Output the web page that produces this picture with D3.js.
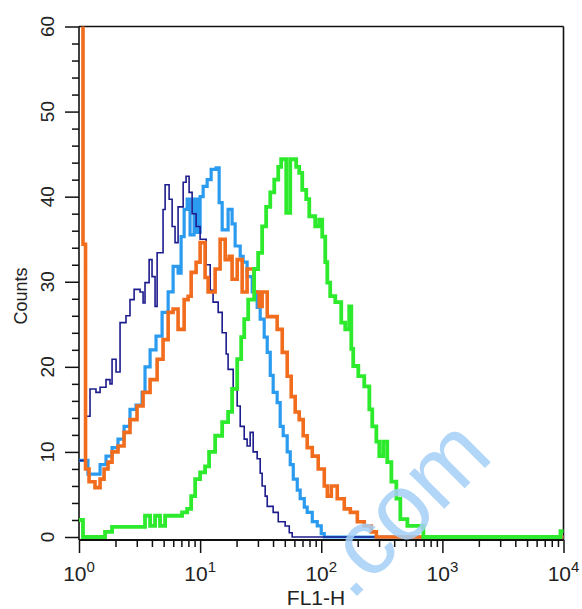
<!DOCTYPE html>
<html><head><meta charset="utf-8">
<script src="https://cdn.jsdelivr.net/npm/d3@7"></script>
<style>
body{margin:0;background:#fff}
svg{display:block}
text{font-family:"Liberation Sans",Arial,Helvetica,sans-serif}
</style>
</head><body>
<svg id="c" width="582" height="609"></svg>
<script>
// ---- data: [log10(FL1-H) at channel start, counts] ----
const navySeries = [[0,9],[0.058,14.2],[0.091,17.4],[0.140,17.0],[0.174,17.6],[0.223,18.5],[0.256,18.0],[0.273,20.9],[0.306,19.4],[0.339,25.2],
[0.388,26],[0.421,27.9],[0.455,29.1],[0.504,28.8],[0.529,27.5],[0.545,29.9],[0.579,32.6],[0.603,30.6],[0.628,27.1],[0.645,33.4],
[0.694,38.5],[0.711,41.4],[0.744,39.7],[0.769,36.5],[0.793,34.6],[0.818,38.8],[0.860,41.7],[0.884,42.4],[0.909,40.5],[0.934,38.0],
[0.967,36.5],[1.000,35],[1.050,32],[1.083,29],[1.107,27.6],[1.149,26.4],[1.182,24],[1.215,21.5],[1.231,19.7],[1.273,17.5],
[1.306,15.4],[1.331,13],[1.364,11.5],[1.388,10.7],[1.413,12.3],[1.438,10],[1.471,9.2],[1.496,7.5],[1.512,6],[1.537,4.8],
[1.554,3.6],[1.603,2.9],[1.645,1.8],[1.702,1.3],[1.736,0.5],[1.760,0],[4,0]];

const lightBlueSeries = [[0,9],[0.074,7.4],[0.174,8.5],[0.223,9.5],[0.273,10.5],[0.322,11.5],[0.372,13],[0.421,15],[0.471,15.5],[0.521,17],
[0.545,20],[0.587,22],[0.636,23.6],[0.686,26.4],[0.736,28.8],[0.777,31.8],[0.818,31.0],[0.843,35.3],[0.868,38.5],[0.893,39.7],
[0.917,35.5],[0.950,39.7],[0.975,35.8],[1.000,40],[1.025,41.2],[1.058,42],[1.091,43.2],[1.132,43.4],[1.157,39.3],[1.182,36.1],
[1.231,38.5],[1.264,36.8],[1.289,34.2],[1.331,33],[1.355,32.3],[1.388,30.6],[1.430,28.8],[1.471,27],[1.496,25.6],[1.529,23.5],
[1.554,21.7],[1.579,19],[1.603,17],[1.636,15.8],[1.661,13],[1.686,11.9],[1.719,10],[1.744,8.5],[1.769,6.8],[1.802,5.5],
[1.826,4.5],[1.860,3.5],[1.884,2.9],[1.926,1.8],[1.967,1.3],[2.000,0.4],[2.025,0],[4,0]];

const orangeSeries = [[0,75],[0.033,34.4],[0.054,8],[0.083,6.5],[0.132,5.8],[0.174,6.8],[0.207,8],[0.240,8.8],[0.273,10],[0.322,10.7],
[0.372,12.3],[0.421,13.8],[0.479,15.4],[0.529,17],[0.587,18.5],[0.645,20.9],[0.694,23.2],[0.736,26.4],[0.777,26.8],[0.818,24.4],
[0.868,27.9],[0.901,28.3],[0.926,31.1],[0.967,32.3],[1.000,34.6],[1.041,30.5],[1.066,28.8],[1.124,31.5],[1.165,35],[1.207,32.6],
[1.240,33],[1.264,30.3],[1.306,32.6],[1.347,28.8],[1.388,31.5],[1.446,28.8],[1.488,27.1],[1.512,28.8],[1.554,25.9],[1.636,24.4],
[1.678,21.7],[1.719,18.9],[1.752,16.5],[1.785,14.7],[1.818,13.8],[1.851,11.9],[1.884,10.5],[1.926,9.5],[1.975,8],[2.025,6],
[2.050,4.8],[2.083,6],[2.132,4.5],[2.190,3.3],[2.240,2.9],[2.298,1.8],[2.355,1.3],[2.413,0.6],[2.455,0],[4,0]];

const greenSeries = [[0,2],[0.033,0],[0.215,0.6],[0.273,1.2],[0.545,2.5],[0.587,1.3],[0.628,2.5],[0.669,1.3],[0.711,2.5],[0.851,2.9],
[0.893,3.3],[0.926,4.8],[0.959,6.8],[1.000,7.6],[1.041,8.3],[1.074,10],[1.124,11.9],[1.182,13.5],[1.231,14.7],[1.264,17.4],
[1.306,20.9],[1.339,23.5],[1.364,25.6],[1.397,27.9],[1.446,31.5],[1.479,33.4],[1.512,36.5],[1.545,38.8],[1.579,40.5],[1.612,42],
[1.645,43.5],[1.669,44.4],[1.711,38.1],[1.744,44.4],[1.793,43.5],[1.818,42.8],[1.843,40.8],[1.876,39.7],[1.901,37.7],[1.950,36.5],
[1.983,37.3],[2.008,35.3],[2.033,32.3],[2.050,29.9],[2.074,28.3],[2.116,27.6],[2.165,25.2],[2.198,24.4],[2.231,27.1],[2.248,22.1],
[2.264,20.1],[2.306,18.9],[2.355,17.7],[2.397,15],[2.421,13],[2.455,11.2],[2.479,9.5],[2.512,11.2],[2.545,8.8],[2.579,6.5],
[2.620,4.5],[2.653,2.1],[2.711,1.3],[2.843,0],[3.975,0.7],[4,0.7]];

const yMajorTicks = [0,10,20,30,40,50,60];
const yMinorTicks = [2,4,6,8,12,14,16,18,22,24,26,28,32,34,36,38,42,44,46,48,52,54,56,58];
const xMajorTicks = [1,10,100,1000,10000];
const xTickExponents = ["0","1","2","3","4"];
const xTitle = "FL1-H";
const yTitle = "Counts";
const watermarkText = ".com";

// ---- drawing ----
const svg = d3.select("#c");
const x = d3.scaleLog().domain([1, 1e4]).range([79, 563.5]);
const y = d3.scaleLinear().domain([0, 60]).range([537, 26.5]);
const axisY = 540;
const ink = "#111";

// frame lines
svg.append("line").attr("x1", x(1)).attr("x2", x(1e4)).attr("y1", y(60)).attr("y2", y(60))
  .attr("stroke", ink).attr("stroke-width", 1.6);
svg.append("line").attr("x1", x(1e4)).attr("x2", x(1e4)).attr("y1", y(60)).attr("y2", axisY)
  .attr("stroke", ink).attr("stroke-width", 1.6);
svg.append("line").attr("x1", x(1)).attr("x2", x(1)).attr("y1", y(60)).attr("y2", axisY)
  .attr("stroke", ink).attr("stroke-width", 1.6);
svg.append("line").attr("x1", x(1)).attr("x2", x(1e4)).attr("y1", axisY).attr("y2", axisY)
  .attr("stroke", ink).attr("stroke-width", 1.8);

// y axis
const gy = svg.append("g").attr("transform", `translate(${x(1)},0)`);
gy.call(d3.axisLeft(y).tickValues(yMajorTicks).tickSize(14).tickFormat(""));
const gy2 = svg.append("g").attr("transform", `translate(${x(1)},0)`);
gy2.call(d3.axisLeft(y).tickValues(yMinorTicks).tickSize(7).tickFormat(""));
[gy, gy2].forEach(g => {
  g.select(".domain").remove();
  g.selectAll(".tick line").attr("stroke", ink).attr("stroke-width", 1.5);
});
yMajorTicks.forEach(v => {
  svg.append("text").attr("transform", `translate(54,${y(v)}) rotate(-90)`)
    .attr("text-anchor", "middle").attr("font-size", 19).attr("fill", "#222").text(v);
});
svg.append("text").attr("transform", `translate(27,296) rotate(-90)`)
  .attr("text-anchor", "middle").attr("font-size", 18).attr("fill", "#222").text(yTitle);

// x axis
const minorX = [];
for (let k = 0; k < 4; k++) for (let m = 2; m <= 9; m++) minorX.push(m * Math.pow(10, k));
const gx = svg.append("g").attr("transform", `translate(0,${axisY})`);
gx.call(d3.axisBottom(x).tickValues(xMajorTicks).tickSize(13).tickFormat(""));
const gx2 = svg.append("g").attr("transform", `translate(0,${axisY})`);
gx2.call(d3.axisBottom(x).tickValues(minorX).tickSize(7).tickFormat(""));
[gx, gx2].forEach(g => {
  g.select(".domain").remove();
  g.selectAll(".tick line").attr("stroke", ink).attr("stroke-width", 1.5);
});
xMajorTicks.forEach((v, i) => {
  const t = svg.append("text").attr("x", x(v)).attr("y", 581).attr("text-anchor", "middle")
    .attr("font-size", 21).attr("fill", "#222");
  t.append("tspan").text("10");
  t.append("tspan").attr("dy", -9).attr("font-size", 15).text(xTickExponents[i]);
});
svg.append("text").attr("x", 316).attr("y", 605).attr("text-anchor", "middle")
  .attr("font-size", 21).attr("fill", "#222").text(xTitle);

// histograms
svg.append("clipPath").attr("id", "clip").append("rect")
  .attr("x", 0).attr("y", y(60)).attr("width", 582).attr("height", 609 - y(60));
const line = d3.line().x(d => x(Math.pow(10, d[0]))).y(d => y(d[1])).curve(d3.curveStepAfter);
const series = [
  {data: lightBlueSeries, color: "#2b9bf0", w: 3.2},
  {data: navySeries, color: "#1c1c8c", w: 1.6},
  {data: orangeSeries, color: "#f26c1d", w: 3.6},
  {data: greenSeries, color: "#2dea2d", w: 3.8}
];
const gs = svg.append("g").attr("clip-path", "url(#clip)");
series.forEach(s => {
  gs.append("path").datum(s.data).attr("d", line).attr("fill", "none")
    .attr("stroke", s.color).attr("stroke-width", s.w);
});

// watermark
svg.append("text").attr("transform", "translate(351,602) rotate(-45)")
  .attr("fill", "#a4d0f6").attr("opacity", 0.85).attr("font-size", 94)
  .attr("text-anchor", "start").text(watermarkText);
</script>
</body></html>
